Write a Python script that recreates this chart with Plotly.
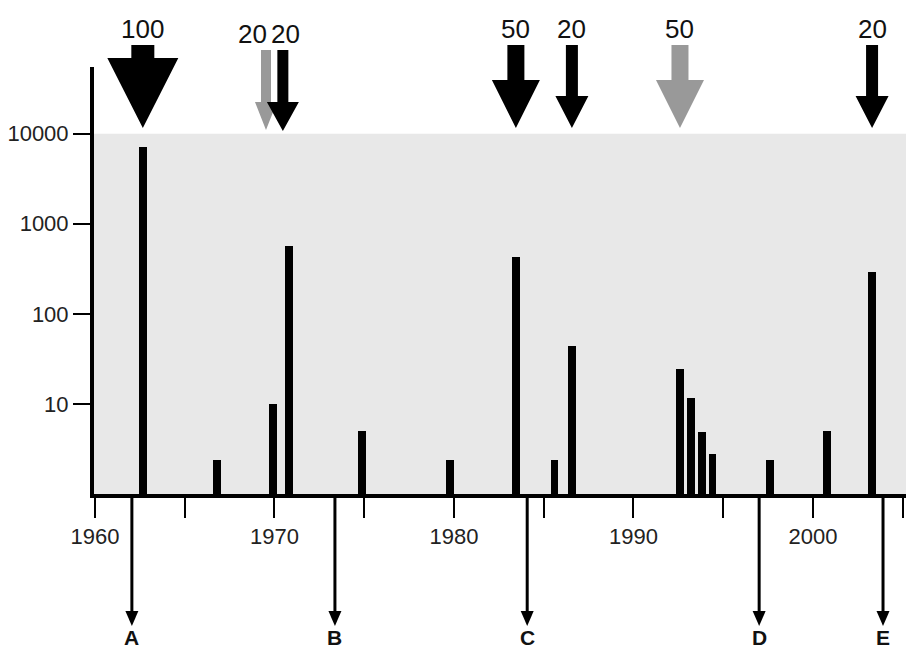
import plotly.graph_objects as go

# ---------------- data ----------------
event_years = [1962.67, 1966.8, 1969.9, 1970.8, 1974.9, 1979.8, 1983.45, 1985.6,
               1986.57, 1992.6, 1993.2, 1993.8, 1994.4, 1997.6, 2000.8, 2003.3]
event_values = [7200, 2.4, 10, 560, 5, 2.4, 430, 2.4,
                44, 24.5, 11.5, 4.9, 2.8, 2.4, 5, 290]

top_arrow_years = [1962.67, 1969.53, 1970.47, 1983.45, 1986.57, 1992.59, 2003.29]
top_arrow_labels = ["100", "20", "20", "50", "20", "50", "20"]
top_arrow_kind = ["black", "gray", "black", "black", "black", "gray", "black"]

bottom_arrow_years = [1962.06, 1973.37, 1984.08, 1997.0, 2003.9]
bottom_arrow_labels = ["A", "B", "C", "D", "E"]

x_tick_vals = [1960, 1965, 1970, 1975, 1980, 1985, 1990, 1995, 2000, 2005]
x_tick_text = ["1960", "", "1970", "", "1980", "", "1990", "", "2000", ""]
y_tick_vals = [10, 100, 1000, 10000]
y_tick_text = ["10", "100", "1000", "10000"]
shade_low, shade_high = 1, 10000

# ---------------- layout geometry ----------------
W, H = 906, 652
PLOT_LEFT, PLOT_TOP, PLOT_BOTTOM = 94, 67, 494  # page pixels
ML, MR = PLOT_LEFT, 0
MT = PLOT_TOP
MB = H - PLOT_BOTTOM
X_RANGE = [1959.95, 2005.18]
Y_RANGE_LOG = [0, 4.74]
plot_w = W - ML - MR
plot_h = PLOT_BOTTOM - PLOT_TOP
px_per_year = plot_w / (X_RANGE[1] - X_RANGE[0])


def dx(px):
    return px / px_per_year


def py(page_y):
    return (PLOT_BOTTOM - page_y) / plot_h


colors = {"black": "#000000", "gray": "#999999"}
# style per magnitude: shaft width, head width, shaft top, head top, tip (pixels)
arrow_style = {
    "100": dict(sw=23, hw=71, top=45, head=58, tip=128, ly=29),
    "50": dict(sw=17, hw=48, top=45, head=80, tip=128, ly=29),
    "20": dict(sw=12, hw=33, top=45, head=96, tip=128, ly=29),
}
# the crowded 1970 pair is drawn slimmer
pair_style = {
    1: dict(sw=10, hw=22, top=50, head=102, tip=130, ly=34, lshift=-13),
    2: dict(sw=11, hw=32, top=50, head=102, tip=131, ly=34, lshift=3),
}

FONT = "Liberation Sans, Arial, sans-serif"
fig = go.Figure()

fig.add_trace(go.Bar(
    x=event_years, y=event_values, width=0.44,
    marker=dict(color="#000000", line=dict(width=0)),
    showlegend=False, hoverinfo="x+y",
))

shapes = []
annotations = []

# shaded region
shapes.append(dict(type="rect", xref="paper", yref="y", x0=0, x1=1,
                   y0=shade_low, y1=shade_high, fillcolor="#e8e8e8",
                   line=dict(width=0), layer="below"))

# top arrows
for i, (xv, lab, kind) in enumerate(zip(top_arrow_years, top_arrow_labels, top_arrow_kind)):
    st = dict(arrow_style[lab])
    st.setdefault("lshift", 0)
    if i in pair_style:
        st.update(pair_style[i])
    sw, hw = dx(st["sw"]) / 2, dx(st["hw"]) / 2
    yt, yh, ytip = py(st["top"]), py(st["head"]), py(st["tip"])
    path = (f"M {xv - sw},{yt} L {xv + sw},{yt} L {xv + sw},{yh} L {xv + hw},{yh} "
            f"L {xv},{ytip} L {xv - hw},{yh} L {xv - sw},{yh} Z")
    shapes.append(dict(type="path", xref="x", yref="paper", path=path,
                       fillcolor=colors[kind], line=dict(width=0), layer="above"))
    annotations.append(dict(x=xv + dx(st["lshift"]), y=py(st["ly"]), xref="x", yref="paper",
                            text=lab, showarrow=False, xanchor="center", yanchor="middle",
                            font=dict(size=26, color="#111111", family=FONT)))

# bottom arrows
for xv, lab in zip(bottom_arrow_years, bottom_arrow_labels):
    shapes.append(dict(type="line", xref="x", yref="paper", x0=xv, x1=xv,
                       y0=py(497), y1=py(613), line=dict(color="#000000", width=3)))
    hw = dx(13) / 2
    path = f"M {xv - hw},{py(611)} L {xv + hw},{py(611)} L {xv},{py(626)} Z"
    shapes.append(dict(type="path", xref="x", yref="paper", path=path,
                       fillcolor="#000000", line=dict(width=0)))
    annotations.append(dict(x=xv, y=py(637), xref="x", yref="paper", text=f"<b>{lab}</b>",
                            showarrow=False, xanchor="center", yanchor="middle",
                            font=dict(size=21, color="#111111", family=FONT)))

fig.update_layout(
    width=W, height=H,
    margin=dict(l=ML, r=MR, t=MT, b=MB, pad=0),
    paper_bgcolor="#ffffff", plot_bgcolor="#ffffff",
    font=dict(family=FONT, color="#222222", size=22),
    shapes=shapes, annotations=annotations,
    bargap=0, showlegend=False,
)
fig.update_xaxes(
    range=X_RANGE, tickvals=x_tick_vals, ticktext=x_tick_text,
    showgrid=False, zeroline=False, showline=True, linecolor="#000000", linewidth=4,
    ticks="outside", ticklen=20, tickwidth=2, tickcolor="#000000",
    tickfont=dict(size=22, color="#222222"), fixedrange=True,
)
fig.update_yaxes(
    type="log", range=Y_RANGE_LOG, tickvals=y_tick_vals, ticktext=y_tick_text,
    showgrid=False, zeroline=False, showline=True, linecolor="#000000", linewidth=4,
    ticks="outside", ticklen=17, tickwidth=2, tickcolor="#000000",
    tickfont=dict(size=22, color="#222222"), fixedrange=True,
)

fig.write_html(
    "out.html",
    config={"displayModeBar": False},
    post_script="document.body.style.margin='0';document.body.style.overflow='hidden';",
)
